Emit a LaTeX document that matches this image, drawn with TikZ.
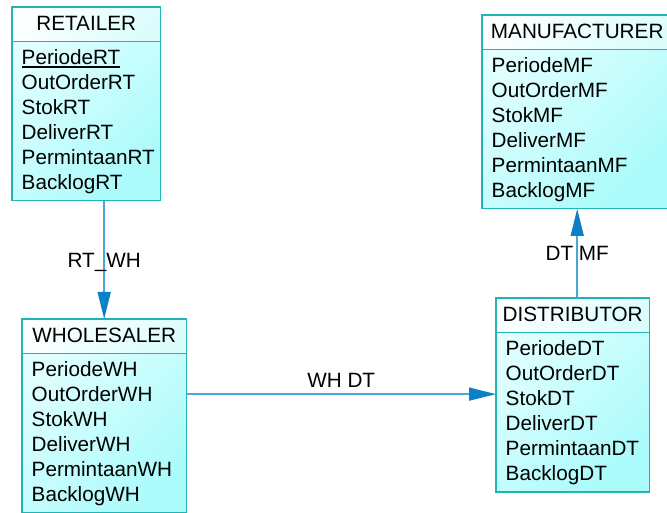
\documentclass[tikz,border=0pt]{standalone}
\usepackage{fontspec}
\setmainfont{Liberation Sans}
\usetikzlibrary{arrows.meta}

\definecolor{boxedge}{HTML}{22B4B4}
\definecolor{bodytop}{HTML}{E4FFFF}
\definecolor{bodybot}{HTML}{ABFBFB}
\definecolor{headtop}{HTML}{FCFFFF}
\definecolor{headbot}{HTML}{DDFDFD}
\definecolor{linkline}{HTML}{45A8D8}
\definecolor{linkhead}{HTML}{0A80C6}

\tikzset{
  x=1pt, y=-1pt,
  txt/.style={font=\fontsize{20.7}{25}\selectfont, inner sep=0pt},
  entity/.style={rectangle, anchor=north west, inner sep=0pt,
    minimum height=193.5pt, top color=bodytop, bottom color=bodybot, shading angle=45},
  headfill/.style={top color=headtop, bottom color=headbot, shading angle=45},
  edge/.style={draw=boxedge, line width=1.2pt},
  title/.style={txt, anchor=base},
  attr/.style={txt, anchor=base west},
  link/.style={draw=linkline, line width=1.6pt,
    -{Triangle[length=27pt, width=13pt, color=linkhead, fill=linkhead]}},
  linklabel/.style={txt, text height=14.8pt, text depth=0pt}
}

% one entity box: #1 name, #2 top-left corner, #3 width, #4 title, #5 attributes
\newcommand\entitytable[5]{%
  \node[entity, minimum width=#3] (#1) at #2 {};
  \shade[headfill] (#1.north west) rectangle ([yshift=-34.5pt]#1.north east);
  \draw[edge] (#1.north west) rectangle (#1.south east);
  \draw[edge] ([yshift=-34.5pt]#1.north west) -- ([yshift=-34.5pt]#1.north east);
  \node[title] (#1-t) at ([yshift=-23.5pt]#1.north) {#4};
  \foreach \item [count=\i] in {#5} {
    \node[attr] (#1-\i) at ([xshift=9.5pt, yshift=-57.5pt-25pt*(\i-1)]#1.north west) {\item};
  }%
}

\begin{document}
\begin{tikzpicture}
  \useasboundingbox (0,0) rectangle (667,513);

  \entitytable{rt}{(12,7)}{148pt}{RETAILER}
    {PeriodeRT,OutOrderRT,StokRT,DeliverRT,PermintaanRT,BacklogRT}
  \draw[line width=1.2pt] ([yshift=-2.6pt]rt-1.base west) -- ([yshift=-2.6pt]rt-1.base east);

  \entitytable{mf}{(482,15)}{190pt}{MANUFACTURER}
    {PeriodeMF,OutOrderMF,StokMF,DeliverMF,PermintaanMF,BacklogMF}

  \entitytable{wh}{(22,319)}{164pt}{WHOLESALER}
    {PeriodeWH,OutOrderWH,StokWH,DeliverWH,PermintaanWH,BacklogWH}

  \entitytable{dt}{(496,298)}{153pt}{DISTRIBUTOR}
    {PeriodeDT,OutOrderDT,StokDT,DeliverDT,PermintaanDT,BacklogDT}

  % relationships
  \draw[link] (rt.south -| wh.north) -- node[linklabel, midway] {RT\_WH} (wh.north);
  \draw[link] (wh.east |- wh-2) -- node[linklabel, midway, anchor=south, yshift=6pt] {WH DT} (dt.west |- wh-2);
  \draw[link] (dt.north -| mf.south) -- node[linklabel, midway] {DT MF} (mf.south);
\end{tikzpicture}
\end{document}
